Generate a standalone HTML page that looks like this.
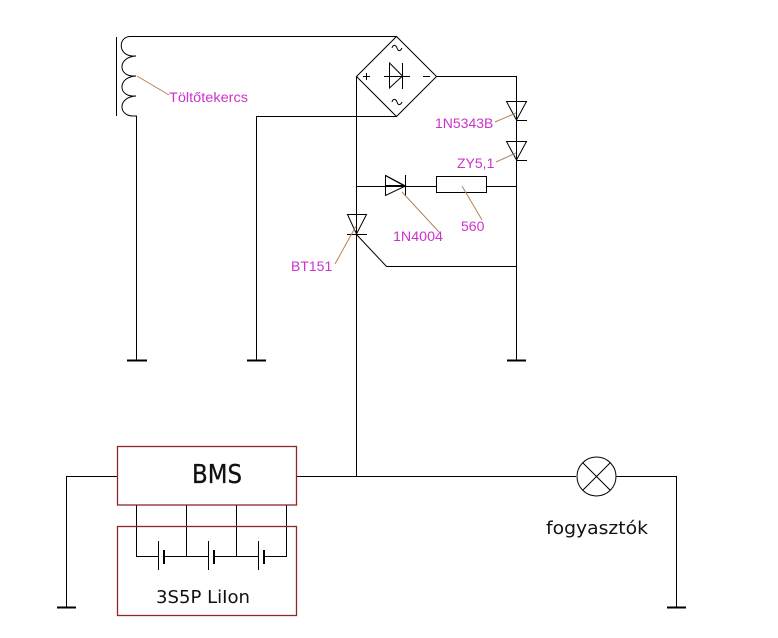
<!DOCTYPE html>
<html><head><meta charset="utf-8"><style>
html,body{margin:0;padding:0;background:#fff}
svg{display:block}
.m{font:14px "Liberation Sans",sans-serif;fill:#cc33cc}
.d{font-family:"DejaVu Sans",sans-serif;fill:#111}
</style></head><body>
<svg width="778" height="638" viewBox="0 0 778 638" xmlns="http://www.w3.org/2000/svg">
<rect width="778" height="638" fill="#fff"/>
<g fill="none" stroke="#000" stroke-width="1">
<!-- coil -->
<path d="M116.500 37V116"/>
<path d="M396.500 36.500H130C118 37 118 55 132 56H136M136 56C118 57 118 75 132 76H136M136 76C118 77 118 95 132 96H136M136 96C118 97 118 115 132 116H136.500V360"/>
<path d="M396 116.500H256.500V360"/>
<!-- bridge -->
<path d="M396.500 36.500L436.500 76.500L396.500 116.500L356.500 76.500Z"/>
<path d="M436 76.500H516.500V360"/>
<path d="M356.500 76V476"/>
<path d="M389.500 63V88L402.500 76ZM389.500 63L402.500 76M384 76.500H410M402.500 63V89"/>
<path d="M363 76.500H370M366.500 73V80M423 76.500H430"/>
<path d="M392 48C393 44 396 45 397 48C398 51 400 52 402 48"/>
<path d="M392 102C393 98 396 99 397 102C398 105 400 106 402 102"/>
<!-- zeners -->
<path d="M506.500 101.500H526.500L516.500 120ZM516 120.500H527"/>
<path d="M506.500 141.500H526.500L516.500 160ZM516 160.500H527"/>
<!-- diode + resistor -->
<path d="M356 186.500H436M486 186.500H516"/>
<path d="M385.500 175.500V195.500L405.500 186ZM405.500 175V196"/>
<path d="M385.500 175.500L405.500 186.500"/>
<path d="M386 185.500H405"/>
<rect x="436.500" y="176.500" width="50" height="16"/>
<!-- SCR -->
<path d="M347.500 214.500H366.500L356.500 234ZM347 234.500H367M356.500 234.500L386.500 266.500H516"/>
<!-- bottom wiring -->
<path d="M117 476.500H66.500V607M296 476.500H576M616 476.500H676.500V607"/>
<circle cx="596.500" cy="476.500" r="19.500"/>
<path d="M582.500 462.500L610.500 490.500M610.500 462.500L582.500 490.500"/>
<!-- battery -->
<path d="M136.500 505V556.500H158M186.500 505V556.500M236.500 505V556.500M286.500 505V556.500H265"/>
<path d="M165 556.500H208M215 556.500H258"/>
<path d="M158.500 541V570M208.500 541V570M258.500 541V570"/>
</g>
<g stroke="#000" stroke-width="2" fill="none">
<path d="M164 550V564M214 550V564M264 550V564"/>
<path d="M127 360.500H147M247 360.500H266M507 360.500H526M57 607.500H76M667 607.500H686"/>
</g>
<g stroke="#8b2a2a" stroke-width="1.300" fill="none">
<rect x="117.500" y="446.500" width="179" height="58.500"/>
<rect x="117.500" y="526.500" width="179" height="89"/>
</g>
<g stroke="#b5835a" stroke-width="1" fill="none">
<path d="M137 76L169 95"/>
<path d="M495 122L516 113"/>
<path d="M496 162L516 153"/>
<path d="M402 192L439 232"/>
<path d="M462 186L482 220"/>
<path d="M335 264L356 226"/>
</g>
<text class="m" x="169" y="102" textLength="79" lengthAdjust="spacingAndGlyphs">Töltőtekercs</text>
<text class="m" x="435" y="128">1N5343B</text>
<text class="m" x="457" y="168">ZY5,1</text>
<text class="m" x="393" y="241" textLength="50" lengthAdjust="spacingAndGlyphs">1N4004</text>
<text class="m" x="461" y="231">560</text>
<text class="m" x="291" y="271">BT151</text>
<text class="d" x="192" y="483" font-size="26" textLength="50" lengthAdjust="spacingAndGlyphs" stroke="#111" stroke-width="0.300">BMS</text>
<text class="d" x="156" y="603" font-size="18" textLength="94" lengthAdjust="spacingAndGlyphs">3S5P LiIon</text>
<text class="d" x="546" y="534" font-size="18" textLength="102" lengthAdjust="spacingAndGlyphs">fogyasztók</text>
</svg>
</body></html>
